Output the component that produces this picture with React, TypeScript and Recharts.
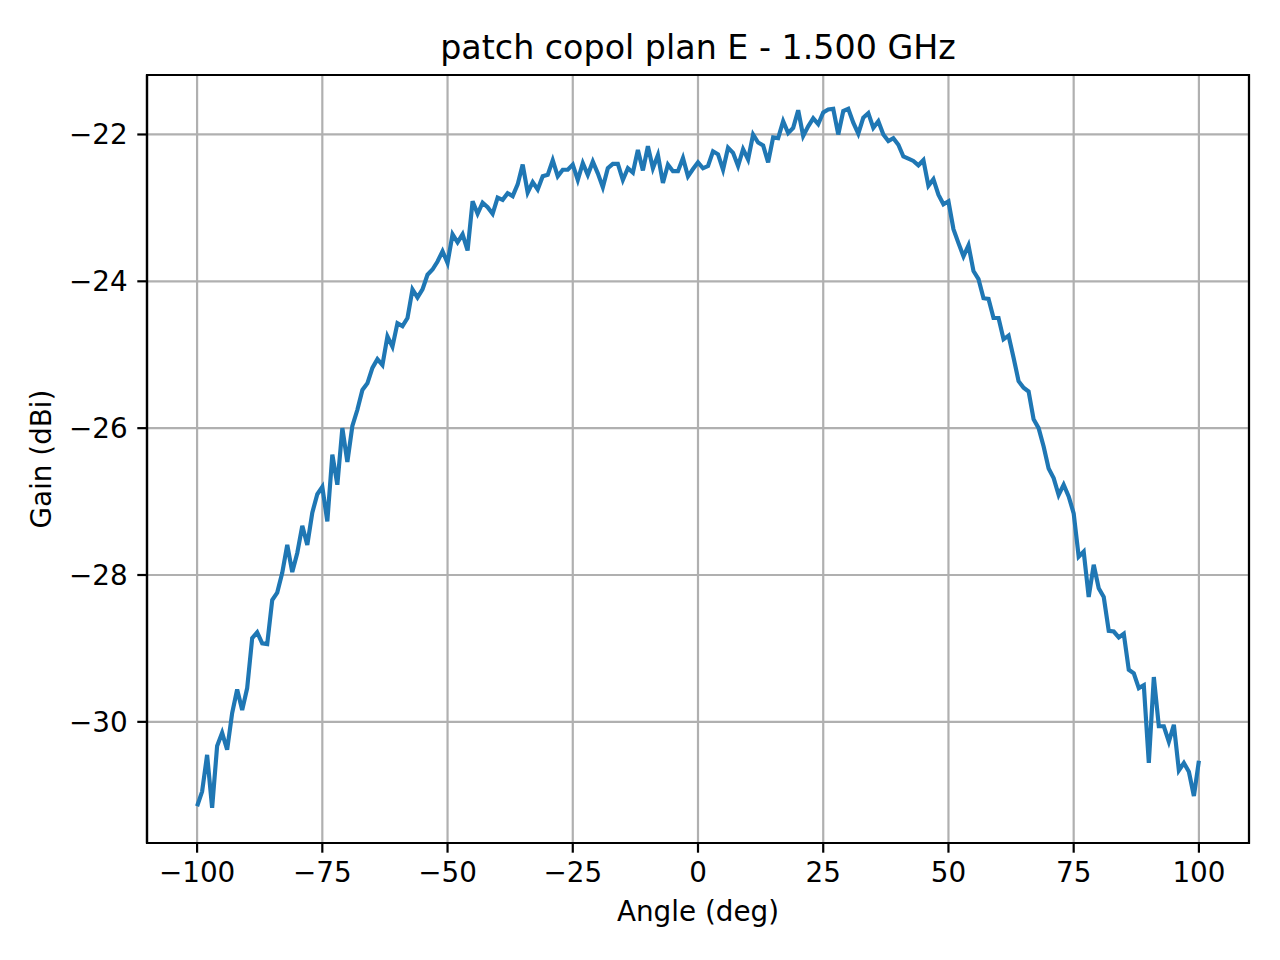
import { LineChart, Line, XAxis, YAxis, CartesianGrid, ReferenceArea } from 'recharts';

// gain, one value per degree
const START_ANGLE = -100;

const GAIN_M100_M51 = [
    -31.15, -30.95, -30.45, -31.17, -30.33, -30.15, -30.38, -29.88, -29.56, -29.84,
    -29.54, -28.86, -28.78, -28.93, -28.94, -28.34, -28.24, -27.97, -27.59, -27.96,
    -27.7, -27.33, -27.59, -27.15, -26.9, -26.8, -27.27, -26.36, -26.77, -26.0,
    -26.46, -25.97, -25.75, -25.48, -25.39, -25.18, -25.06, -25.14, -24.75, -24.89,
    -24.57, -24.61, -24.5, -24.11, -24.22, -24.11, -23.91, -23.84, -23.73, -23.59,
];

const GAIN_M50_M1 = [
    -23.75, -23.36, -23.47, -23.36, -23.58, -22.91, -23.08, -22.93, -22.99, -23.08,
    -22.86, -22.89, -22.8, -22.84, -22.68, -22.41, -22.79, -22.65, -22.75, -22.57,
    -22.55, -22.35, -22.57, -22.48, -22.48, -22.41, -22.62, -22.39, -22.55, -22.37,
    -22.53, -22.72, -22.46, -22.4, -22.4, -22.62, -22.46, -22.52, -22.21, -22.49,
    -22.16, -22.46, -22.28, -22.66, -22.41, -22.5, -22.5, -22.32, -22.57, -22.47,
];

const GAIN_0_49 = [
    -22.38, -22.46, -22.43, -22.23, -22.27, -22.48, -22.18, -22.25, -22.43, -22.2,
    -22.34, -22.0, -22.11, -22.15, -22.38, -22.04, -22.05, -21.82, -21.98, -21.91,
    -21.67, -22.02, -21.89, -21.78, -21.86, -21.7, -21.66, -21.65, -22.0, -21.68,
    -21.65, -21.84, -21.99, -21.77, -21.71, -21.91, -21.82, -22.0, -22.09, -22.05,
    -22.14, -22.3, -22.33, -22.36, -22.42, -22.35, -22.7, -22.61, -22.82, -22.95,
];

const GAIN_50_100 = [
    -22.91, -23.29, -23.48, -23.66, -23.51, -23.86, -23.97, -24.23, -24.24, -24.5,
    -24.5, -24.79, -24.74, -25.04, -25.36, -25.45, -25.5, -25.88, -26.0, -26.25,
    -26.55, -26.68, -26.91, -26.77, -26.93, -27.16, -27.75, -27.68, -28.3, -27.86,
    -28.18, -28.3, -28.76, -28.77, -28.85, -28.8, -29.29, -29.34, -29.54, -29.5,
    -30.56, -29.39, -30.06, -30.06, -30.27, -30.04, -30.66, -30.56, -30.68, -31.01,
    -30.53,
];

const X_TICKS = [-100, -75, -50, -25, 0, 25, 50, 75, 100];
const Y_TICKS = [-30, -28, -26, -24, -22];
const X_DOMAIN = [-110, 110];
const Y_DOMAIN = [-31.65, -21.19];

const GAIN = [...GAIN_M100_M51, ...GAIN_M50_M1, ...GAIN_0_49, ...GAIN_50_100];
const data = GAIN.map((g, i) => ({ angle: START_ANGLE + i, gain: g }));

const FONT = '"DejaVu Sans", sans-serif';
const minus = (v: number) => String(v).replace('-', '\u2212');

export default function App() {
    const tickStyle = { fontSize: 27.8, fill: '#000', fontFamily: FONT };
    const lineStyle = { stroke: '#000', strokeWidth: 2.2 };

    return (
        <div style={{ position: 'absolute', left: 0, top: 0, width: 1280, height: 960, background: '#fff', fontFamily: FONT }}>
            <LineChart width={1280} height={960} data={data} margin={{ top: 75, right: 31, left: 0, bottom: 0 }}>
                <CartesianGrid stroke="#b0b0b0" strokeWidth={2.2} />
                <XAxis
                    dataKey="angle"
                    type="number"
                    domain={X_DOMAIN}
                    ticks={X_TICKS}
                    allowDataOverflow
                    height={117}
                    tickSize={9.7}
                    tickMargin={9.7}
                    tick={tickStyle}
                    tickFormatter={minus}
                    axisLine={lineStyle}
                    tickLine={lineStyle}
                />
                <YAxis
                    type="number"
                    domain={Y_DOMAIN}
                    ticks={Y_TICKS}
                    allowDataOverflow
                    width={147}
                    tickSize={9.7}
                    tickMargin={9.7}
                    tick={tickStyle}
                    tickFormatter={minus}
                    axisLine={lineStyle}
                    tickLine={lineStyle}
                />
                <Line
                    dataKey="gain"
                    type="linear"
                    stroke="#1f77b4"
                    strokeWidth={4.17}
                    dot={false}
                    activeDot={false}
                    isAnimationActive={false}
                />
                <ReferenceArea
                    x1={X_DOMAIN[0]}
                    x2={X_DOMAIN[1]}
                    y1={Y_DOMAIN[0]}
                    y2={Y_DOMAIN[1]}
                    fill="none"
                    stroke="#000"
                    strokeWidth={2.2}
                    ifOverflow="visible"
                />
            </LineChart>
            <div style={{ position: 'absolute', left: 698, top: 31, transform: 'translateX(-50%)', fontSize: 33.3, lineHeight: 1, whiteSpace: 'nowrap', color: '#000' }}>
                patch copol plan E - 1.500 GHz
            </div>
            <div style={{ position: 'absolute', left: 698, top: 898, transform: 'translateX(-50%)', fontSize: 27.8, lineHeight: 1, whiteSpace: 'nowrap', color: '#000' }}>
                Angle (deg)
            </div>
            <div style={{ position: 'absolute', left: 42, top: 459, transform: 'translate(-50%, -50%) rotate(-90deg)', fontSize: 27.8, lineHeight: 1, whiteSpace: 'nowrap', color: '#000' }}>
                Gain (dBi)
            </div>
        </div>
    );
}
